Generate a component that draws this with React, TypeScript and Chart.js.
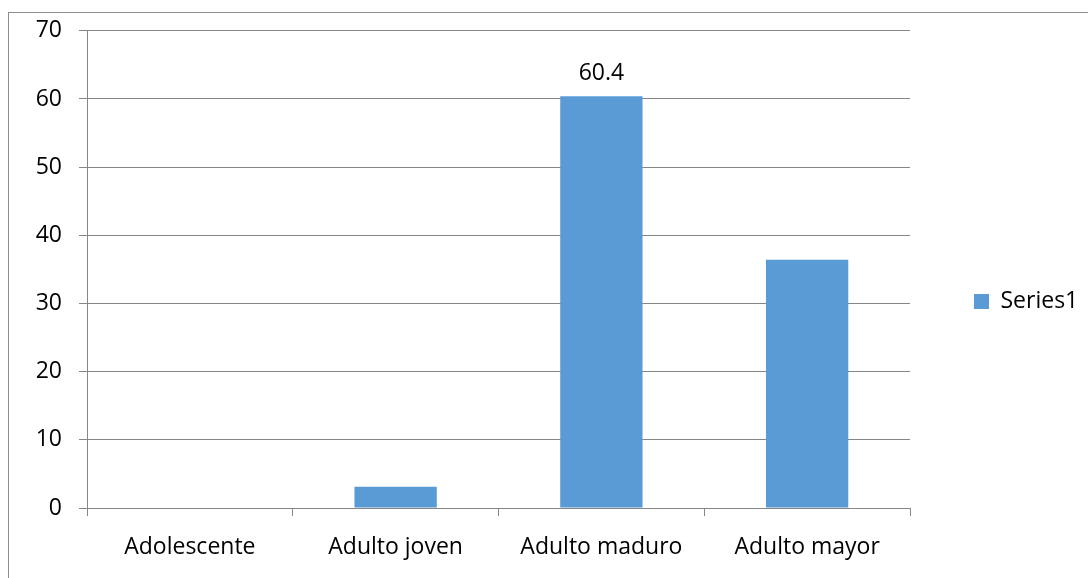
import Chart from 'chart.js/auto';
import { useEffect, useRef } from 'react';

const categories = ['Adolescente', 'Adulto joven', 'Adulto maduro', 'Adulto mayor'];
const values = [0, 3.1, 60.4, 36.4];
const seriesName = 'Series1';
// only this bar carries a data label in the original
const labelledIndexes = [2];
const yMin = 0;
const yMax = 70;
const yStep = 10;

const FONT = '"Open Sans", sans-serif';
const GRID = '#868686';
const BAR = '#5B9BD5';

export default function App() {
  const canvasRef = useRef<HTMLCanvasElement | null>(null);

  useEffect(() => {
    const chartInstance = new Chart(canvasRef.current!, {
      type: 'bar',
      data: {
        labels: categories,
        datasets: [
          {
            label: seriesName,
            data: values,
            backgroundColor: BAR,
            borderWidth: 0,
            barPercentage: 0.4,
            categoryPercentage: 1,
          },
        ],
      },
      options: {
        responsive: false,
        animation: false,
        devicePixelRatio: 1,
        layout: { padding: { top: 29, left: 0, right: 0, bottom: 0 } },
        font: { family: FONT, size: 23 },
        color: '#000',
        scales: {
          x: {
            grid: {
              offset: true,
              drawOnChartArea: false,
              drawTicks: true,
              tickLength: 8,
              color: GRID,
            },
            border: { color: GRID },
            ticks: { color: '#000', font: { family: FONT, size: 23 }, padding: 18, maxRotation: 0 },
            afterFit(scale) {
              scale.height = 70;
            },
          },
          y: {
            min: yMin,
            max: yMax,
            ticks: { stepSize: yStep, color: '#000', font: { family: FONT, size: 23 }, padding: 17 },
            grid: { color: GRID, tickLength: 8 },
            border: { color: GRID },
            afterFit(scale) {
              scale.width = 87;
            },
          },
        },
        plugins: {
          legend: {
            position: 'right',
            labels: {
              boxWidth: 15,
              boxHeight: 15,
              color: '#000',
              font: { family: FONT, size: 23 },
            },
          },
          tooltip: { enabled: false },
        },
      },
      plugins: [
        {
          id: 'legendPlace',
          afterInit(chart) {
            const originalFit = chart.legend?.fit;
            chart.legend!.fit = function fit() {
              if (originalFit) {
                originalFit.call(this);
              }
              this.width = 178;
            };
          },
          afterLayout(chart) {
            const legend = chart.legend!;
            legend.left += 54;
            legend.top -= 2;
            legend.bottom -= 2;
          },
        },
        {
          id: 'barLabels',
          afterDatasetsDraw(chart) {
            const { ctx } = chart;
            const meta = chart.getDatasetMeta(0);
            ctx.save();
            ctx.font = `23px ${FONT}`;
            ctx.fillStyle = '#000';
            ctx.textAlign = 'center';
            ctx.textBaseline = 'middle';
            labelledIndexes.forEach((i) => {
              const bar = meta.data[i];
              ctx.fillText(String(values[i]), bar.x, bar.y - 23);
            });
            ctx.restore();
          },
        },
      ],
    });
    return () => chartInstance.destroy();
  }, []);

  return (
    <div
      style={{
        position: 'absolute',
        left: 0,
        top: 0,
        width: 1088,
        height: 578,
        overflow: 'hidden',
        background: '#fff',
      }}
    >
      <div
        style={{
          position: 'absolute',
          left: 8,
          top: 12,
          width: 1200,
          height: 700,
          borderLeft: '1px solid #8e8e8e',
          borderTop: '1px solid #8e8e8e',
        }}
      />
      <canvas ref={canvasRef} width={1088} height={578} style={{ position: 'absolute', left: 0, top: 0 }} />
    </div>
  );
}
